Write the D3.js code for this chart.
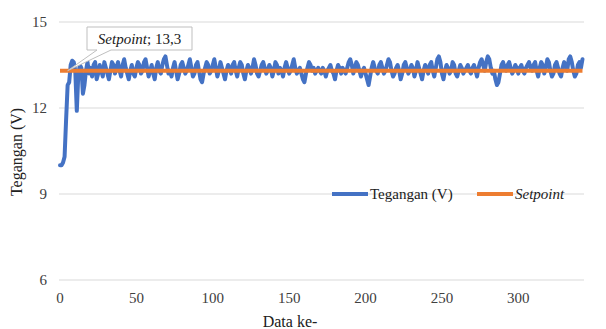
<!DOCTYPE html>
<html>
<head>
<meta charset="utf-8">
<script src="https://cdn.jsdelivr.net/npm/d3@7"></script>
<style>
  body { margin: 0; background: #fff; }
  svg text { font-family: "Liberation Serif", "DejaVu Serif", serif; }
</style>
</head>
<body>
<script>
const yTicks = [6, 9, 12, 15];
const xTicks = [0, 50, 100, 150, 200, 250, 300];
const setpoint = 13.3;
const seriesNames = ['Tegangan (V)', 'Setpoint'];

// tegangan terukur, satu nilai per data ke-
const voltage = [
  10.0, 10.0, 10.1, 10.3, 11.6, 12.8, 12.9, 13.5, 13.65, 13.6, 13.3, 11.9, 13.2, 13.5, 13.4, 12.5, 12.8, 13.3, 13.6, 13.2,
  13.4, 13.1, 13.5, 13.6, 13.0, 13.2, 13.5, 13.3, 13.1, 13.6, 13.4, 13.2, 13.0, 13.3, 13.6, 13.5, 13.2, 13.4, 13.6, 13.3,
  13.1, 13.5, 13.7, 13.4, 13.2, 13.0, 13.3, 13.5, 13.2, 13.1, 13.4, 13.6, 13.5, 13.2, 13.3, 13.6, 13.7, 13.4, 13.1, 13.3,
  13.5, 13.2, 13.0, 13.4, 13.6, 13.3, 13.2, 13.5, 13.7, 13.8, 13.5, 13.2, 13.3, 13.1, 13.4, 13.6, 13.3, 13.0, 13.2, 13.5,
  13.6, 13.4, 13.2, 13.3, 13.5, 13.7, 13.4, 13.1, 13.2, 13.5, 13.6, 13.3, 13.0, 12.9, 13.2, 13.4, 13.6, 13.5, 13.2, 13.3,
  13.5, 13.7, 13.4, 13.1, 13.3, 13.6, 13.4, 13.2, 13.0, 13.3, 13.5, 13.4, 13.2, 13.5, 13.6, 13.3, 13.1, 13.4, 13.6, 13.5,
  13.2, 13.0, 13.3, 13.5, 13.4, 13.2, 13.4, 13.7, 13.5, 13.2, 13.1, 13.3, 13.5, 13.6, 13.4, 13.2, 13.3, 13.5, 13.4, 13.1,
  13.3, 13.6, 13.5, 13.2, 13.4, 13.3, 13.1, 13.4, 13.6, 13.4, 13.2, 13.3, 13.5, 13.7, 13.4, 13.2, 13.3, 13.4, 13.2, 13.0,
  12.9, 13.2, 13.4, 13.6, 13.5, 13.3, 13.4, 13.2, 13.3, 13.4, 13.3, 13.2, 13.4, 13.3, 13.1, 13.3, 13.4, 13.5, 13.3, 13.2,
  13.0, 13.3, 13.5, 13.4, 13.2, 13.4, 13.3, 13.2, 13.4, 13.6, 13.7, 13.5, 13.2, 13.4, 13.6, 13.5, 13.3, 13.1, 13.3, 13.4,
  13.2, 13.0, 12.8, 13.1, 13.4, 13.6, 13.4, 13.3, 13.2, 13.5, 13.6, 13.4, 13.2, 13.3, 13.5, 13.7, 13.6, 13.3, 13.1, 13.2,
  13.4, 13.5, 13.3, 13.0, 13.2, 13.5, 13.6, 13.4, 13.2, 13.3, 13.5, 13.4, 13.1, 13.3, 13.6, 13.4, 13.2, 13.0, 13.3, 13.5,
  13.4, 13.2, 13.5, 13.6, 13.3, 13.1, 13.4, 13.7, 13.8, 13.6, 13.2, 13.0, 13.3, 13.5, 13.4, 13.2, 13.3, 13.6, 13.5, 13.2,
  13.1, 13.3, 13.5, 13.4, 13.2, 13.3, 13.4, 13.5, 13.3, 13.2, 13.4, 13.5, 13.3, 13.1, 13.4, 13.6, 13.7, 13.5, 13.3, 13.6,
  13.8, 13.7, 13.4, 13.2, 13.3, 13.0, 12.8, 12.9, 13.2, 13.5, 13.6, 13.4, 13.3, 13.5, 13.6, 13.4, 13.2, 13.3, 13.5, 13.4,
  13.2, 13.4, 13.5, 13.3, 13.2, 13.4, 13.5, 13.6, 13.4, 13.3, 13.5, 13.6, 13.3, 13.1, 13.4, 13.6, 13.5, 13.2, 13.4, 13.7,
  13.6, 13.3, 13.1, 13.2, 13.5, 13.6, 13.4, 13.2, 13.1, 13.4, 13.6, 13.5, 13.3, 13.7, 13.8, 13.6, 13.3, 13.1, 13.2, 13.5,
  13.6, 13.4, 13.7
];
const setpointSeries = voltage.map(() => setpoint);

const width = 606, height = 329;
const svg = d3.select('body').append('svg')
  .attr('width', width)
  .attr('height', height)
  .attr('font-family', '"Liberation Serif", "DejaVu Serif", serif');

const x = d3.scaleLinear().domain([0, voltage.length]).range([60, 584]);
const y = d3.scaleLinear().domain([6, 15]).range([280, 22]);

// gridlines
svg.append('g')
  .selectAll('line')
  .data(yTicks)
  .join('line')
  .attr('x1', 59).attr('x2', 584)
  .attr('y1', d => y(d)).attr('y2', d => y(d))
  .attr('stroke', '#d9d9d9')
  .attr('stroke-width', 1);

// y tick labels
svg.append('g')
  .selectAll('text')
  .data(yTicks)
  .join('text')
  .attr('x', 47)
  .attr('y', d => y(d))
  .attr('dy', '0.35em')
  .attr('text-anchor', 'end')
  .attr('font-size', 15)
  .attr('fill', '#404040')
  .text(d => d);

// x tick labels
svg.append('g')
  .selectAll('text')
  .data(xTicks)
  .join('text')
  .attr('x', d => x(d))
  .attr('y', 298)
  .attr('dy', '0.35em')
  .attr('text-anchor', 'middle')
  .attr('font-size', 15)
  .attr('fill', '#404040')
  .text(d => d);

svg.append('text')
  .attr('x', 290).attr('y', 321)
  .attr('dy', '0.35em')
  .attr('text-anchor', 'middle')
  .attr('font-size', 16)
  .attr('fill', '#202020')
  .text('Data ke-');

svg.append('text')
  .attr('transform', 'translate(16,152) rotate(-90)')
  .attr('dy', '0.35em')
  .attr('text-anchor', 'middle')
  .attr('font-size', 16)
  .attr('fill', '#202020')
  .text('Tegangan (V)');

const line = d3.line()
  .x((d, i) => x(i))
  .y(d => y(d));

svg.append('path')
  .datum(voltage)
  .attr('d', line)
  .attr('fill', 'none')
  .attr('stroke', '#4472c4')
  .attr('stroke-width', 4)
  .attr('stroke-linejoin', 'round')
  .attr('stroke-linecap', 'round');

svg.append('path')
  .datum(setpointSeries)
  .attr('d', line)
  .attr('fill', 'none')
  .attr('stroke', '#ed7d31')
  .attr('stroke-width', 4);

// callout for the setpoint data label
const px = x(5), py = y(setpoint);
const bx = 87, by = 27, bw = 105, bh = 23;
svg.append('path')
  .attr('d', `M${bx},${by} H${bx + bw} V${by + bh} H${bx + 24} L${px},${py} L${bx + 10},${by + bh} H${bx} Z`)
  .attr('fill', '#fff')
  .attr('stroke', '#bfbfbf')
  .attr('stroke-width', 1);

const label = svg.append('text')
  .attr('x', bx + bw / 2).attr('y', by + bh / 2)
  .attr('dy', '0.35em')
  .attr('text-anchor', 'middle')
  .attr('font-size', 15)
  .attr('fill', '#202020');
label.append('tspan').attr('font-style', 'italic').text('Setpoint');
label.append('tspan').text('; 13,3');

// legend
const legend = [
  { name: seriesNames[0], color: '#4472c4', x0: 332, italic: false },
  { name: seriesNames[1], color: '#ed7d31', x0: 477, italic: true }
];
const lg = svg.append('g').selectAll('g').data(legend).join('g');
lg.append('line')
  .attr('x1', d => d.x0).attr('x2', d => d.x0 + 36)
  .attr('y1', 194).attr('y2', 194)
  .attr('stroke', d => d.color)
  .attr('stroke-width', 4);
lg.append('text')
  .attr('x', d => d.x0 + 38).attr('y', 194)
  .attr('dy', '0.35em')
  .attr('font-size', 15)
  .attr('font-style', d => d.italic ? 'italic' : 'normal')
  .attr('fill', '#202020')
  .text(d => d.name);
</script>
</body>
</html>
